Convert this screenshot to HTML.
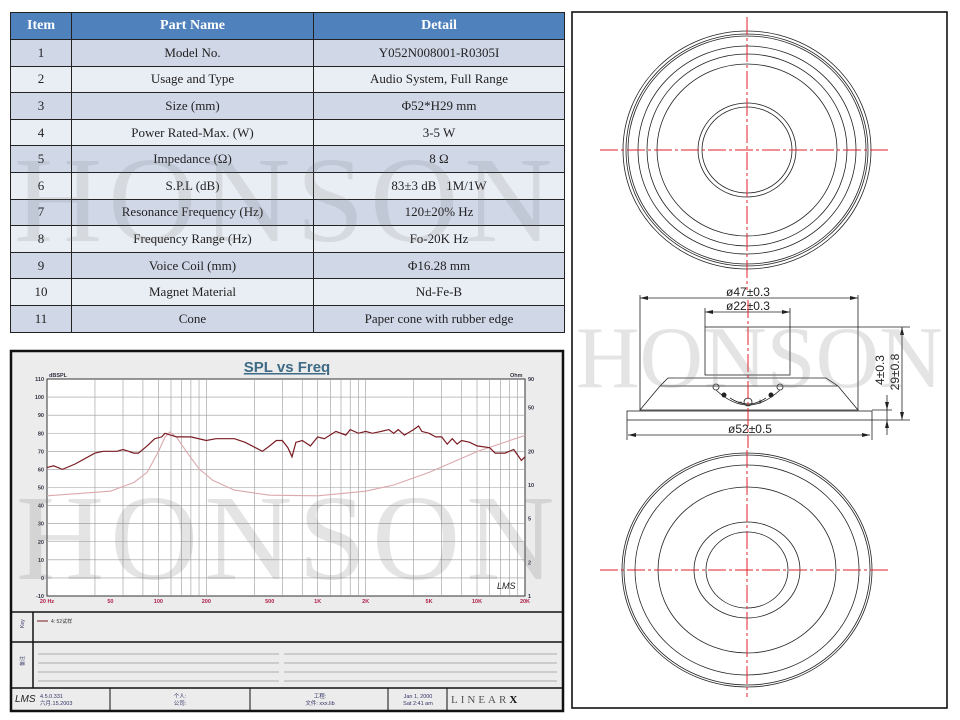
<!DOCTYPE html>
<html><head><meta charset="utf-8">
<style>
body{margin:0;background:#fff;width:960px;height:720px;overflow:hidden;position:relative;font-family:"Liberation Serif",serif}
table{position:absolute;left:10px;top:12px;width:555px;border-collapse:collapse;font-size:13px;color:#222}
td,th{border:1.5px solid #222;height:25.6px;text-align:center;padding:0}
th{background:#4f81bd;color:#fff;font-weight:bold;font-size:14px;height:26px}
tr.o td{background:#d0d8e8}tr.e td{background:#e9edf4}
.wm{position:absolute;font-family:"Liberation Serif",serif;color:rgba(120,120,120,0.2);white-space:nowrap;line-height:1;pointer-events:none}
svg{position:absolute;left:0;top:0}
</style></head><body>
<table>
<tr><th style="width:60px">Item</th><th style="width:241px">Part Name</th><th>Detail</th></tr>
<tr class="o"><td>1</td><td>Model No.</td><td>Y052N008001-R0305I</td></tr>
<tr class="e"><td>2</td><td>Usage and Type</td><td>Audio System, Full Range</td></tr>
<tr class="o"><td>3</td><td>Size (mm)</td><td>Φ52*H29 mm</td></tr>
<tr class="e"><td>4</td><td>Power Rated-Max. (W)</td><td>3-5 W</td></tr>
<tr class="o"><td>5</td><td>Impedance (Ω)</td><td>8 Ω</td></tr>
<tr class="e"><td>6</td><td>S.P.L (dB)</td><td>83±3 dB &nbsp; 1M/1W</td></tr>
<tr class="o"><td>7</td><td>Resonance Frequency (Hz)</td><td>120±20% Hz</td></tr>
<tr class="e"><td>8</td><td>Frequency Range (Hz)</td><td>Fo-20K Hz</td></tr>
<tr class="o"><td>9</td><td>Voice Coil (mm)</td><td>Φ16.28 mm</td></tr>
<tr class="e"><td>10</td><td>Magnet Material</td><td>Nd-Fe-B</td></tr>
<tr class="o"><td>11</td><td>Cone</td><td>Paper cone with rubber edge</td></tr>
</table>

<svg id="s" width="960" height="720" xmlns="http://www.w3.org/2000/svg" font-family="Liberation Sans, sans-serif">
<rect x="11" y="351" width="552" height="360" fill="#ececec" stroke="#111" stroke-width="2.5"/>
<text x="287" y="372" font-size="15" font-weight="bold" fill="#3e6a86" text-anchor="middle" text-decoration="underline">SPL vs Freq</text>
<rect x="47" y="379" width="478" height="217" fill="#fff" stroke="#333" stroke-width="1"/>
<g id="grid" stroke="#999" stroke-width="0.6"></g>
<g id="ylab" font-size="5.5" fill="#334" font-weight="bold"></g>
<text x="49" y="377" font-size="5.5" fill="#334" font-weight="bold">dBSPL</text>
<text x="510" y="377" font-size="5.5" fill="#334" font-weight="bold">Ohm</text>
<path id="imp" fill="none" stroke="#dba8ad" stroke-width="1.1"/>
<path id="spl" fill="none" stroke="#7a1c22" stroke-width="1.2"/>
<text x="497" y="589" font-size="9" font-style="italic" fill="#222">LMS</text>
<line x1="11" y1="612" x2="563" y2="612" stroke="#111" stroke-width="1.5"/>
<line x1="11" y1="642" x2="563" y2="642" stroke="#111" stroke-width="1.5"/>
<line x1="11" y1="688" x2="563" y2="688" stroke="#111" stroke-width="1.5"/>
<line x1="33" y1="612" x2="33" y2="688" stroke="#111" stroke-width="1.5"/>
<text x="22" y="630" font-size="5" fill="#336" transform="rotate(-90 22 628)">Key</text>
<text x="22" y="668" font-size="5" fill="#336" transform="rotate(-90 22 666)">备注</text>
<line x1="37" y1="621" x2="48" y2="621" stroke="#7a1c22"/>
<text x="51" y="623" font-size="5" fill="#333">4: 52试样</text>
<g stroke="#999" stroke-width="0.7">
<line x1="38" y1="654" x2="279" y2="654"/><line x1="284" y1="654" x2="557" y2="654"/>
<line x1="38" y1="663" x2="279" y2="663"/><line x1="284" y1="663" x2="557" y2="663"/>
<line x1="38" y1="672" x2="279" y2="672"/><line x1="284" y1="672" x2="557" y2="672"/>
<line x1="38" y1="681" x2="279" y2="681"/><line x1="284" y1="681" x2="557" y2="681"/>
</g>
<g stroke="#111" stroke-width="1"><line x1="110" y1="688" x2="110" y2="711"/><line x1="250" y1="688" x2="250" y2="711"/><line x1="388" y1="688" x2="388" y2="711"/><line x1="447" y1="688" x2="447" y2="711"/></g>
<g font-size="5.5" fill="#336">
<text x="15" y="702" font-size="10" font-style="italic" fill="#222">LMS</text>
<text x="40" y="698">4.5.0.331</text><text x="40" y="705">六月.15.2003</text>
<text x="180" y="698" text-anchor="middle">个人:</text><text x="180" y="705" text-anchor="middle">公司:</text>
<text x="320" y="698" text-anchor="middle">工程:</text><text x="320" y="705" text-anchor="middle">文件: xxx.lib</text>
<text x="418" y="698" text-anchor="middle">Jan 1, 2000</text><text x="418" y="705" text-anchor="middle">Sat 2:41 am</text>
</g>
<text x="451" y="703" font-size="11" fill="#555" font-family="Liberation Serif,serif" letter-spacing="3">LINEAR<tspan font-weight="bold" fill="#111">X</tspan></text>

<rect x="572" y="12" width="375" height="696" fill="none" stroke="#111" stroke-width="1.6"/>
<g fill="none" stroke="#222" stroke-width="0.8">
<ellipse cx="747" cy="150" rx="124" ry="119"/><ellipse cx="747" cy="150" rx="121" ry="116"/><ellipse cx="747" cy="150" rx="119" ry="114"/>
<ellipse cx="747" cy="150" rx="109" ry="104"/><ellipse cx="747" cy="150" rx="100" ry="96"/><ellipse cx="747" cy="150" rx="90" ry="86"/>
<ellipse cx="747" cy="150" rx="49" ry="47"/><ellipse cx="747" cy="150" rx="45" ry="43"/>
<ellipse cx="747" cy="570" rx="125" ry="117"/><ellipse cx="747" cy="570" rx="123" ry="115"/><ellipse cx="747" cy="570" rx="112" ry="105"/>
<ellipse cx="747" cy="570" rx="89" ry="83"/><ellipse cx="747" cy="570" rx="53" ry="48"/><ellipse cx="747" cy="570" rx="41" ry="38"/>
<rect x="705" y="327" width="85" height="48"/>
<path d="M668 378 L826 378 L838 386 L858 410 L640 410 L660 386 Z M660 386 L838 386"/>
<rect x="627" y="411" width="245" height="9"/>
<path d="M716 390 Q748 420 780 390"/>
<path d="M730 398 Q748 410 766 398"/>
<circle cx="716" cy="387" r="3"/><circle cx="780" cy="387" r="3"/><circle cx="748" cy="402" r="4"/>
<line x1="640" y1="295" x2="640" y2="410"/><line x1="858" y1="295" x2="858" y2="410"/>
<line x1="705" y1="308" x2="705" y2="327"/><line x1="790" y1="308" x2="790" y2="327"/>
<line x1="640" y1="298" x2="858" y2="298"/><line x1="705" y1="312" x2="790" y2="312"/>
<line x1="627" y1="420" x2="627" y2="440"/><line x1="872" y1="420" x2="872" y2="440"/>
<line x1="628" y1="435" x2="870" y2="435"/>
<line x1="790" y1="327" x2="910" y2="327"/><line x1="872" y1="420" x2="910" y2="420"/><line x1="872" y1="410" x2="892" y2="410"/>
<line x1="902" y1="327" x2="902" y2="420"/><line x1="887" y1="395" x2="887" y2="435"/>
</g>
<g fill="#222"><circle cx="724" cy="395" r="2.5"/><circle cx="771" cy="395" r="2.5"/>
<path d="M640 298 l8 -2 v4z M858 298 l-8 -2 v4z M705 312 l8 -2 v4z M790 312 l-8 -2 v4z M628 435 l8 -2 v4z M870 435 l-8 -2 v4z M902 327 l-2 8 h4z M902 420 l-2 -8 h4z M887 410 l-2 -8 h4z M887 420 l-2 8 h4z"/></g>
<g font-size="12" fill="#222" text-anchor="middle">
<text x="748" y="296">ø47±0.3</text><text x="748" y="310">ø22±0.3</text>
<text x="750" y="433">ø52±0.5</text>
<text x="884" y="370" transform="rotate(-90 884 370)">4±0.3</text>
<text x="899" y="372" transform="rotate(-90 899 372)">29±0.8</text>
<text x="740" y="405" font-size="9">−</text><text x="760" y="405" font-size="9">+</text>
</g>
<g stroke="#e0202a" stroke-width="1" stroke-dasharray="18 3 3 3" fill="none">
<line x1="600" y1="150" x2="888" y2="150"/><line x1="747" y1="17" x2="747" y2="290"/>
<line x1="600" y1="570" x2="888" y2="570"/><line x1="747" y1="450" x2="747" y2="697"/>
<line x1="748" y1="300" x2="748" y2="448"/>
</g>
</svg>
<div class="wm" style="left:14px;top:140px;font-size:122px;letter-spacing:6px;color:rgba(120,120,120,0.16)">HONSON</div>
<div class="wm" style="left:16px;top:478px;font-size:122px;letter-spacing:6px">HONSON</div>
<div class="wm" style="left:576px;top:315px;font-size:88px;letter-spacing:0px">HONSON</div>
<script>
var X=function(f){return 47+159.33*Math.log10(f/20)};
var Y=function(d){return 596-(d+10)*1.8083};
var YO=function(o){return 596-111*Math.log10(o)};
var g=document.getElementById('grid'),h='';
[20,200,2000].forEach(function(b){for(var m=1;m<10;m++){var f=b*m;if(f>20000)break;if(f==20)continue;h+='<line x1="'+X(f)+'" y1="379" x2="'+X(f)+'" y2="596"/>';}});
for(var i=1;i<12;i++){var y=379+i*217/12;h+='<line x1="47" y1="'+y+'" x2="525" y2="'+y+'"/>';}
g.innerHTML=h;
var l='';for(var d=110;d>=-10;d-=10)l+='<text x="44" y="'+(Y(d)+2)+'" text-anchor="end">'+d+'</text>';
[90,50,20,10,5,2,1].forEach(function(o){l+='<text x="528" y="'+(YO(o)+2)+'">'+o+'</text>'});
[[20,'20 Hz'],[50,'50'],[100,'100'],[200,'200'],[500,'500'],[1000,'1K'],[2000,'2K'],[5000,'5K'],[10000,'10K'],[20000,'20K']].forEach(function(a){l+='<text x="'+X(a[0])+'" y="603" text-anchor="middle" fill="#b0204a">'+a[1]+'</text>'});
document.getElementById('ylab').innerHTML=l;
var s=[[20,61],[22,62],[25,60],[30,63],[40,69],[45,70],[50,70],[55,70],[60,71],[65,70],[70,69],[75,69],[85,73],[95,77],[105,78],[110,80],[130,78],[160,78],[200,76],[230,77],[300,77],[350,75],[450,70],[500,73],[550,76],[600,76],[650,72],[690,67],[730,75],[800,76],[900,73],[1000,78],[1100,77],[1300,81],[1500,79],[1600,82],[1800,80],[2000,81],[2200,80],[2500,81],[2800,82],[3000,80],[3200,82],[3500,79],[4000,82],[4300,84],[4500,81],[5000,80],[5500,78],[6000,78],[6500,74],[7000,77],[7500,74],[8000,76],[9000,75],[10000,73],[12000,72],[13000,69],[15000,69],[17000,71],[19000,65],[20000,67]];
document.getElementById('spl').setAttribute('d','M'+s.map(function(p){return X(p[0]).toFixed(1)+' '+Y(p[1]).toFixed(1)}).join(' L'));
var im=[[20,8],[50,8.8],[70,10.5],[85,13],[100,20],[110,27],[118,30],[130,27],[150,20],[180,14],[220,11],[300,9],[500,8.1],[1000,8],[2000,8.8],[3000,10],[5000,13],[10000,20],[20000,28]];
document.getElementById('imp').setAttribute('d','M'+im.map(function(p){return X(p[0]).toFixed(1)+' '+YO(p[1]).toFixed(1)}).join(' L'));
</script>
</body></html>
